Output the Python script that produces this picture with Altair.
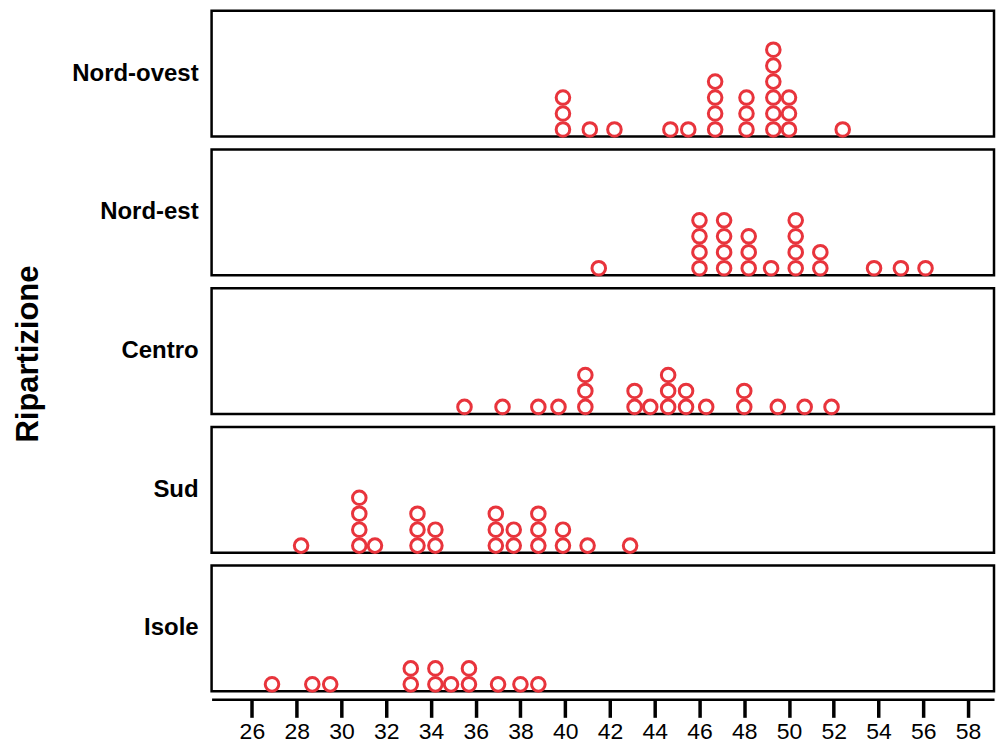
import altair as alt
import pandas as pd

regions = ["Nord-ovest", "Nord-est", "Centro", "Sud", "Isole"]

nord_ovest = [39.9, 39.9, 39.9, 41.1, 42.2, 44.7, 45.5, 46.7, 46.7, 46.7, 46.7,
              48.1, 48.1, 48.1, 49.3, 49.3, 49.3, 49.3, 49.3, 49.3,
              50.0, 50.0, 50.0, 52.4]
nord_est = [41.5, 46.0, 46.0, 46.0, 46.0, 47.1, 47.1, 47.1, 47.1,
            48.2, 48.2, 48.2, 49.2, 50.3, 50.3, 50.3, 50.3, 51.4, 51.4,
            53.8, 55.0, 56.1]
centro = [35.5, 37.2, 38.8, 39.7, 40.9, 40.9, 40.9, 43.1, 43.1, 43.8,
          44.6, 44.6, 44.6, 45.4, 45.4, 46.3, 48.0, 48.0, 49.5, 50.7, 51.9]
sud = [28.2, 30.8, 30.8, 30.8, 30.8, 31.5, 33.4, 33.4, 33.4, 34.2, 34.2,
       36.9, 36.9, 36.9, 37.7, 37.7, 38.8, 38.8, 38.8, 39.9, 39.9, 41.0, 42.9]
isole = [26.9, 28.7, 29.5, 33.1, 33.1, 34.2, 34.2, 34.9, 35.7, 35.7,
         37.0, 38.0, 38.8]

x_ticks = list(range(26, 60, 2))

series = [nord_ovest, nord_est, centro, sud, isole]
df = pd.DataFrame(
    [{"Ripartizione": r, "valore": v} for r, vals in zip(regions, series) for v in vals]
)

FONT = "Liberation Sans"

base = alt.Chart()

dots = (
    base
    .transform_window(stack="row_number()", groupby=["Ripartizione", "valore"])
    .mark_point(shape="circle", filled=False, size=185, strokeWidth=3,
                color="#e8343c", opacity=1)
    .encode(
        x=alt.X("valore:Q",
                scale=alt.Scale(domain=[24.2, 59.16], nice=False, zero=False),
                axis=alt.Axis(title=None, values=x_ticks, grid=False,
                              tickSize=18, tickWidth=3.5, tickColor="black",
                              domainColor="black", domainWidth=2.5,
                              labelFontSize=23, labelColor="black",
                              labelFont=FONT, labelPadding=3,
                              labelFlush=False, labelOverlap=False)),
        y=alt.Y("stack:Q",
                scale=alt.Scale(domain=[0.56, 8.44], nice=False, zero=False),
                axis=None),
    )
)

labels = (
    base
    .transform_aggregate(n="count()", groupby=["Ripartizione"])
    .mark_text(font=FONT, fontSize=24, fontWeight="bold", color="black",
               align="right", baseline="middle")
    .encode(
        text="Ripartizione:N",
        x=alt.value(-13),
        y=alt.value(63),
    )
)

chart = (
    alt.layer(dots, labels, data=df)
    .properties(width=784, height=126)
    .facet(
        row=alt.Row(
            "Ripartizione:N",
            sort=regions,
            header=alt.Header(
                title="Ripartizione",
                titleFont=FONT, titleFontSize=31, titleFontWeight="bold",
                titleColor="black", titleOrient="left", titlePadding=16,
                labels=False,
            ),
        ),
        spacing=3,
    )
    .configure_view(stroke="black", strokeWidth=2.5)
    .properties(padding={"top": 0, "left": 4, "right": 0, "bottom": 0})
)

chart.save("out.html", embed_options={"renderer": "svg", "actions": False})
